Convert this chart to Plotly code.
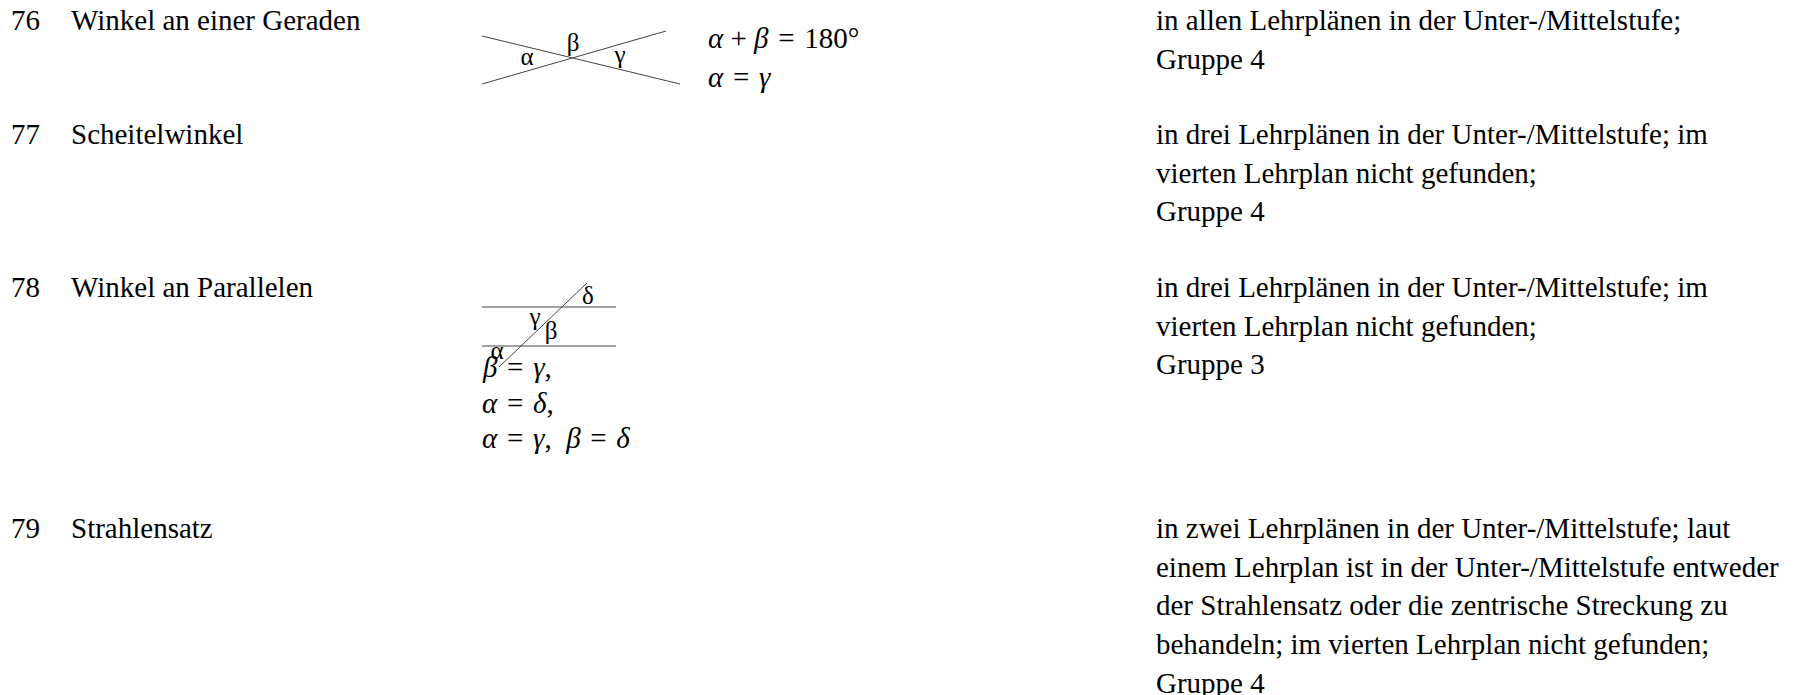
import plotly.graph_objects as go

# entries of the list
numbers = ["76", "77", "78", "79"]
titles = ["Winkel an einer Geraden", "Scheitelwinkel", "Winkel an Parallelen", "Strahlensatz"]
notes = [
    ["in allen Lehrplänen in der Unter-/Mittelstufe;", "Gruppe 4"],
    ["in drei Lehrplänen in der Unter-/Mittelstufe; im", "vierten Lehrplan nicht gefunden;", "Gruppe 4"],
    ["in drei Lehrplänen in der Unter-/Mittelstufe; im", "vierten Lehrplan nicht gefunden;", "Gruppe 3"],
    ["in zwei Lehrplänen in der Unter-/Mittelstufe; laut",
     "einem Lehrplan ist in der Unter-/Mittelstufe entweder",
     "der Strahlensatz oder die zentrische Streckung zu",
     "behandeln; im vierten Lehrplan nicht gefunden;",
     "Gruppe 4"],
]
EQ = " \u200a=\u200a "  # TeX puts a bit more room round =
formulas_76 = [f"<i>α</i> + <i>β</i>{EQ}180°", f"<i>α</i>{EQ}<i>γ</i>"]
formulas_78 = [f"<i>β</i>{EQ}<i>γ</i>,",
               f"<i>α</i>{EQ}<i>δ</i>,",
               f"<i>α</i>{EQ}<i>γ</i>,  <i>β</i>{EQ}<i>δ</i>"]

# sketch 76: two crossing lines
cross_a_x = [482, 680]
cross_a_y = [36, 84]
cross_b_x = [482, 666]
cross_b_y = [84, 31]
cross_labels = ["α", "β", "γ"]
cross_label_x = [527, 573, 620]
cross_label_y = [59, 45, 57]

# sketch 78: two parallels and a transversal
par_top_x = [482, 616]
par_top_y = [307, 307]
par_bot_x = [482, 616]
par_bot_y = [346, 346]
trans_x = [499, 587]
trans_y = [367, 283]
par_labels = ["δ", "γ", "β", "α"]
par_label_x = [588, 535, 551, 497]
par_label_y = [298, 319, 333, 353]

row_y = [20, 134, 287, 528]
line_h = 38.7
FONT = "Liberation Serif"
FS = 29

fig = go.Figure()
for xs, ys in [(cross_a_x, cross_a_y), (cross_b_x, cross_b_y), (par_top_x, par_top_y),
               (par_bot_x, par_bot_y), (trans_x, trans_y)]:
    fig.add_trace(go.Scatter(x=xs, y=ys, mode="lines", line=dict(color="#444", width=1),
                             hoverinfo="skip", showlegend=False))

fig.add_trace(go.Scatter(x=cross_label_x, y=cross_label_y, mode="text", text=cross_labels,
                         textfont=dict(family=FONT, size=25, color="black"), showlegend=False))
fig.add_trace(go.Scatter(x=par_label_x, y=par_label_y, mode="text", text=par_labels,
                         textfont=dict(family=FONT, size=25, color="black"), showlegend=False))

def put(x, y, s):
    fig.add_annotation(x=x, y=y, text=s, showarrow=False, xanchor="left", yanchor="middle",
                       xshift=-2, font=dict(family=FONT, size=FS, color="black"))

for i in range(len(numbers)):
    put(11, row_y[i], numbers[i])
    put(71, row_y[i], titles[i])
    for j, s in enumerate(notes[i]):
        put(1156, row_y[i] + j * line_h, s)

for j, s in enumerate(formulas_76):
    put(708, 38 + j * 39, s)
for j, s in enumerate(formulas_78):
    put(482, 367 + j * 35.6, s)

# page body has an 8px margin, so the figure starts at pixel 8
fig.update_xaxes(range=[8, 1800], visible=False)
fig.update_yaxes(range=[695, 8], visible=False)
fig.update_layout(width=1792, height=687, margin=dict(l=0, r=0, t=0, b=0),
                  plot_bgcolor="white", paper_bgcolor="white")
fig.write_html("out.html")
